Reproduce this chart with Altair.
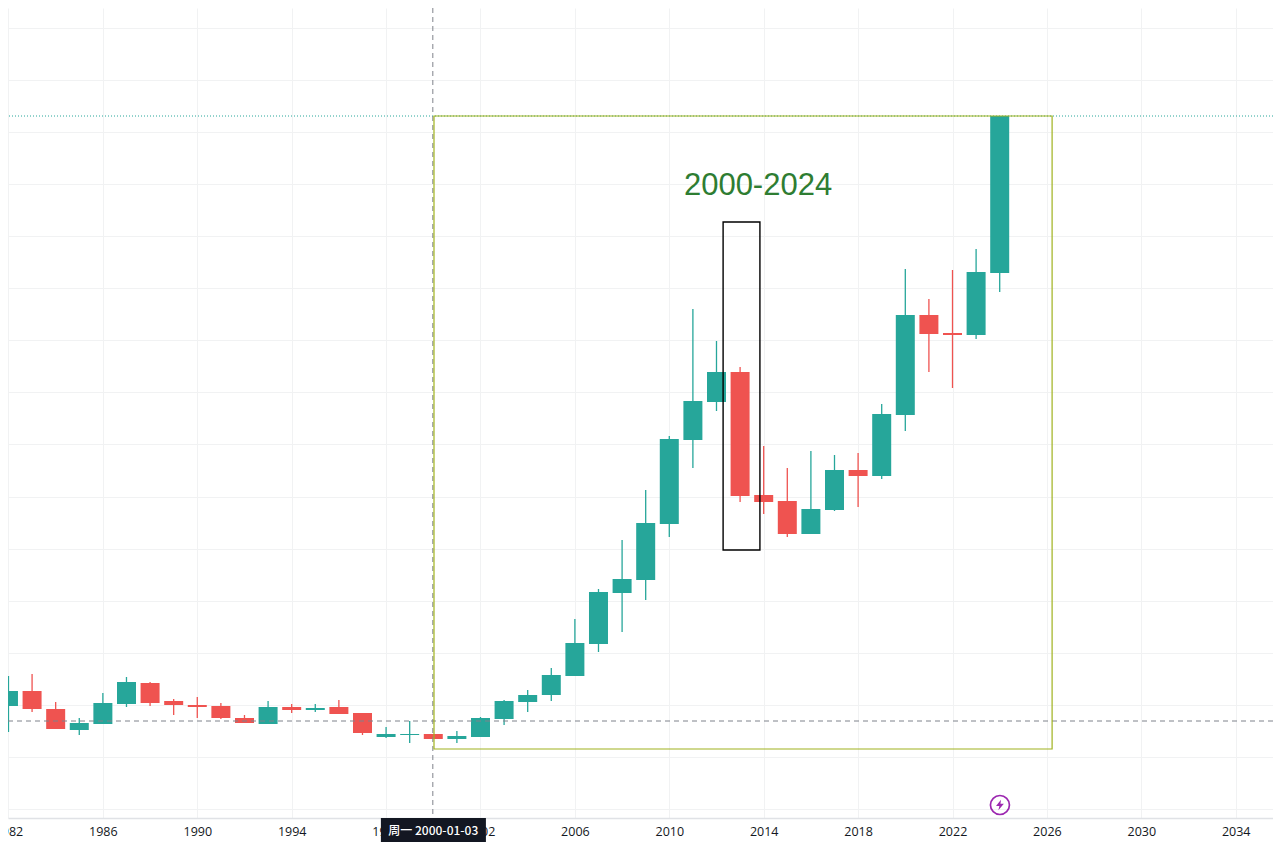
import altair as alt
import pandas as pd

years = list(range(1982, 2025))
opens = [103,118,100,79,85,105,126,108,104,103,91,85,102,99,102,96,72,74,75,70,72,90,107,114,133,165,216,229,285,369,407,437,314,308,275,299,339,333,394,494,476,474,536]
closes = [118,100,80,86,106,127,106,104,102,91,86,102,99,101,95,76,75,75,70,73,91,108,114,134,166,217,230,286,370,408,437,313,307,275,300,339,333,395,494,475,474,537,693]
highs = [133,135,107,91,116,132,127,110,112,106,94,108,105,105,109,96,82,88,75,78,92,109,119,141,190,220,269,319,373,500,468,442,363,341,358,354,356,405,540,510,539,560,693]
lows = [77,97,80,74,85,102,103,94,91,90,86,85,96,97,95,74,71,66,70,66,72,84,97,108,133,157,177,209,272,341,398,307,295,272,275,298,302,330,378,437,421,470,517]
tick_years = list(range(1982, 2035, 4))
grid_values = [0,52,104,156,208,260,312,365,417,469,521,573,625,677,729,781]

df = pd.DataFrame({"year": years, "open": opens, "close": closes, "high": highs, "low": lows})
df["dir"] = ["up" if c > o else "down" for o, c in zip(opens, closes)]

x_scale = alt.Scale(domain=[1981.98, 2035.58], nice=False, zero=False, padding=0)
y_scale = alt.Scale(domain=[-9, 801], nice=False, zero=False, padding=0)
color = alt.Color("dir:N", scale=alt.Scale(domain=["up", "down"], range=["#26a69a", "#ef5350"]), legend=None)

x_axis = alt.Axis(values=tick_years, format="d", title=None, grid=True, gridColor="#f1f2f3", gridWidth=1,
                  domainColor="#e0e2e6", domainWidth=1.5, ticks=False, labelFontSize=12.5, labelFont="Open Sans",
                  labelColor="#131722", labelPadding=7, labelFlush=False, labelOverlap=False, labelBound=False)
y_axis = alt.Axis(values=grid_values, title=None, grid=True, gridColor="#f1f2f3", gridWidth=1,
                  domain=False, ticks=False, labels=False)

def xq(f):
    return alt.X(f, type="quantitative", scale=x_scale, axis=x_axis)
def yq(f):
    return alt.Y(f, type="quantitative", scale=y_scale, axis=y_axis)

wicks = alt.Chart(df).mark_rule(strokeWidth=1.3).encode(x=xq("year"), y=yq("low"), y2="high:Q", color=color)
bodies = alt.Chart(df).mark_bar(size=19).encode(x=xq("year"), y=yq("open"), y2="close:Q", color=color)

box_df = pd.DataFrame({"x0": [2000.03], "x1": [2026.22], "y0": [60], "y1": [693]})
olive = alt.Chart(box_df).mark_rect(fillOpacity=0, stroke="#a0b21e", strokeWidth=1.2).encode(x=xq("x0"), x2="x1", y=yq("y0"), y2="y1")
hl_df = pd.DataFrame({"x0": [2012.28], "x1": [2013.84], "y0": [259], "y1": [587]})
black = alt.Chart(hl_df).mark_rect(fillOpacity=0, stroke="#000000", strokeWidth=1.4).encode(x=xq("x0"), x2="x1", y=yq("y0"), y2="y1")

label_df = pd.DataFrame({"x": [2013.76], "y": [623.5], "t": ["2000-2024"]})
label = alt.Chart(label_df).mark_text(fontSize=31, font="Liberation Sans", color="#2e7d32", align="center", baseline="middle").encode(x=xq("x"), y=yq("y"), text="t:N")

last_df = pd.DataFrame({"v": [693]})
last_line = alt.Chart(last_df).mark_rule(stroke="#26a69a", strokeWidth=1, strokeDash=[1, 2]).encode(y=yq("v"))
cross_h_df = pd.DataFrame({"v": [88]})
cross_h = alt.Chart(cross_h_df).mark_rule(stroke="#7f828b", strokeWidth=1, strokeDash=[5, 4]).encode(y=yq("v"))
cross_v_df = pd.DataFrame({"x": [1999.98]})
cross_v = alt.Chart(cross_v_df).mark_rule(stroke="#7f828b", strokeWidth=1, strokeDash=[5, 4]).encode(x=xq("x"))

icon_df = pd.DataFrame({"x": [2024.01], "y": [4]})
ring = alt.Chart(icon_df).mark_point(shape="circle", size=361, filled=False, stroke="#9c27b0", strokeWidth=1.7, opacity=1).encode(x=xq("x"), y=yq("y"))
bolt = alt.Chart(icon_df).mark_point(shape="M0.2,-1L-0.75,0.2L-0.1,0.2L-0.3,1L0.75,-0.25L0.1,-0.25Z", size=110, filled=True, color="#9c27b0", opacity=1).encode(x=xq("x"), y=yq("y"))

time_df = pd.DataFrame({"x0": [1997.78], "x1": [2002.23], "xc": [2000.0], "t": ["周一 2000-01-03"]})
time_box = alt.Chart(time_df).mark_rect(color="#131722").encode(x=xq("x0"), x2="x1", y=alt.value(810), y2=alt.value(834))
time_text = alt.Chart(time_df).mark_text(fontSize=12, fontWeight=500, font="Noto Sans CJK SC", color="#ffffff", align="center", baseline="middle").encode(x=xq("xc"), y=alt.value(822.5), text="t:N")

chart = alt.layer(wicks, bodies, last_line, cross_h, cross_v, olive, black, label, ring, bolt, time_box, time_text).properties(
    width=1265, height=810, padding={"left": 0, "top": 0, "right": 0, "bottom": 26},
    autosize=alt.AutoSizeParams(type="none"), background="#ffffff"
).configure_view(stroke=None)

chart.save("out.html", embed_options={"renderer": "svg", "actions": False})
